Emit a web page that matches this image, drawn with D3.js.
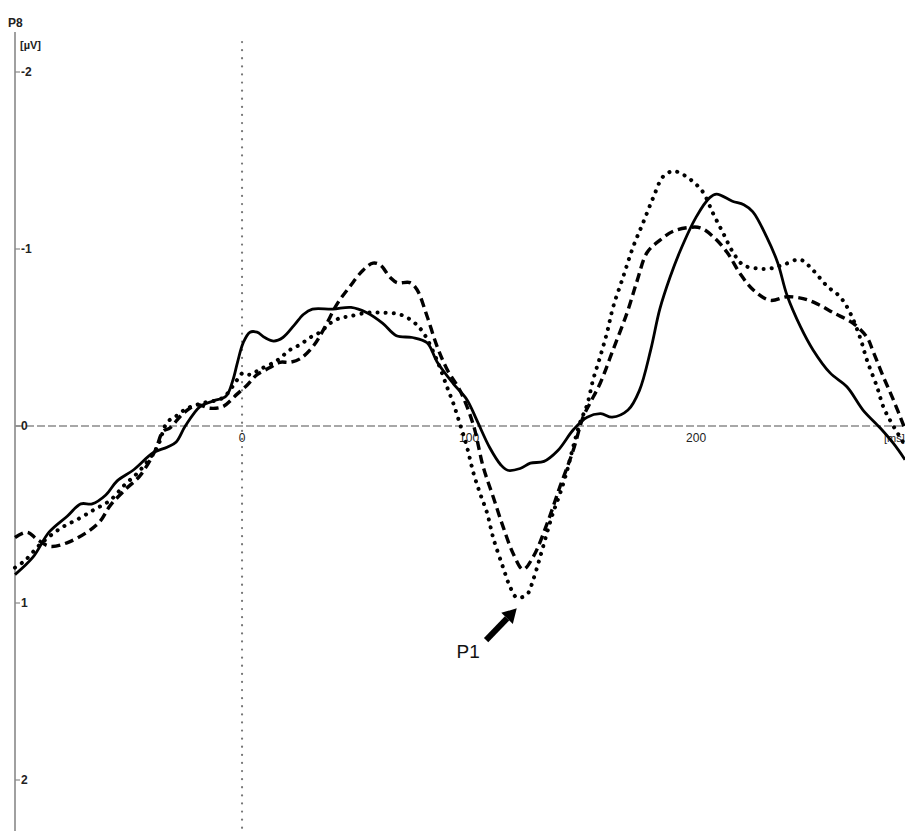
<!DOCTYPE html>
<html><head><meta charset="utf-8">
<script src="https://cdn.jsdelivr.net/npm/d3@7"></script>
<style>
html,body{margin:0;padding:0;background:#fff;overflow:hidden;}
svg{display:block;font-family:"Liberation Sans",Arial,sans-serif;}
</style></head>
<body>
<svg id="chart" width="905" height="831"></svg>
<script>
// Data: [time (ms), amplitude (µV)]
const solid = [[-100,0.84],[-92,0.74],[-85,0.60],[-77,0.51],[-71,0.44],[-66,0.44],[-60,0.39],[-55,0.31],[-48,0.25],[-39,0.15],[-33,0.12],[-29,0.09],[-25,0.0],[-18.5,-0.11],[-13,-0.14],[-7,-0.17],[-4,-0.26],[-2,-0.36],[0.5,-0.47],[3.5,-0.53],[6.6,-0.53],[10,-0.50],[14,-0.48],[18,-0.50],[23,-0.57],[27,-0.63],[31,-0.66],[40,-0.66],[48,-0.67],[55,-0.64],[62,-0.58],[68,-0.51],[75,-0.50],[81.5,-0.47],[86,-0.36],[93,-0.24],[99,-0.15],[103.5,-0.03],[109,0.12],[114,0.22],[117,0.25],[122.5,0.24],[127,0.21],[133,0.20],[139,0.14],[146,0.02],[152,-0.05],[158,-0.07],[163,-0.05],[170,-0.09],[175,-0.20],[180,-0.43],[184,-0.66],[188.5,-0.84],[193,-0.99],[200,-1.18],[206,-1.29],[209,-1.31],[216,-1.27],[221,-1.25],[225,-1.21],[231,-1.07],[236,-0.92],[240,-0.74],[246,-0.56],[251.5,-0.43],[259,-0.30],[266.5,-0.22],[273.5,-0.09],[281,0.01],[287,0.10],[292,0.19]];
const dashed = [[-100,0.63],[-94.7,0.60],[-90.3,0.64],[-84.6,0.68],[-77.1,0.66],[-68.3,0.60],[-62.6,0.54],[-58.1,0.45],[-51.5,0.36],[-44.9,0.28],[-38.3,0.14],[-34.8,0.03],[-31.7,0.01],[-26,-0.07],[-19.8,-0.12],[-14.1,-0.10],[-8.4,-0.11],[-2.2,-0.18],[2.2,-0.23],[6.6,-0.29],[12.3,-0.33],[16.7,-0.36],[21.1,-0.36],[25.6,-0.38],[31.3,-0.45],[35.7,-0.54],[41.9,-0.69],[47.6,-0.79],[53.3,-0.88],[57.7,-0.92],[60.8,-0.91],[65.2,-0.84],[68.3,-0.81],[74,-0.81],[77.1,-0.77],[81.5,-0.62],[85.9,-0.45],[90.3,-0.32],[96,-0.20],[101.8,-0.01],[106.2,0.23],[110.6,0.40],[115,0.57],[119.4,0.72],[123.8,0.81],[128.2,0.74],[134.4,0.55],[140.1,0.34],[145.8,0.14],[150.2,-0.05],[153.3,-0.13],[157.7,-0.24],[163.4,-0.43],[169.6,-0.64],[174,-0.82],[178.4,-0.98],[184.1,-1.05],[189.9,-1.10],[196,-1.12],[201.8,-1.12],[207.5,-1.07],[213.7,-0.98],[219.4,-0.86],[225.1,-0.77],[232.6,-0.71],[240.1,-0.73],[247.1,-0.72],[253.3,-0.69],[260.4,-0.64],[269.2,-0.58],[275.3,-0.50],[278,-0.42],[282.4,-0.28],[286.8,-0.15],[292.1,0.02]];
const dotted = [[-100,0.80],[-95.6,0.76],[-89,0.67],[-80.2,0.58],[-71.4,0.52],[-64.8,0.47],[-58.1,0.42],[-51.5,0.33],[-44.9,0.25],[-37.4,0.12],[-33,-0.02],[-28.6,-0.06],[-24.2,-0.10],[-17.2,-0.13],[-8.4,-0.16],[-2.2,-0.26],[0.4,-0.30],[3.5,-0.29],[7.9,-0.32],[15.4,-0.37],[21.1,-0.43],[25.6,-0.46],[30,-0.50],[34.4,-0.53],[38.8,-0.58],[43.2,-0.61],[47.6,-0.62],[55.1,-0.64],[62.1,-0.64],[69.6,-0.63],[75.3,-0.59],[79.7,-0.53],[85.9,-0.37],[90.3,-0.22],[93,-0.13],[96,-0.01],[99.1,0.12],[101.8,0.26],[104.8,0.38],[107.9,0.49],[110.6,0.63],[115,0.80],[118.1,0.91],[121.1,0.97],[125.6,0.95],[128.2,0.87],[131.3,0.74],[134.4,0.60],[137,0.49],[140.1,0.38],[143.2,0.25],[145.8,0.12],[148.9,-0.02],[152,-0.12],[154.6,-0.26],[157.7,-0.39],[160.8,-0.53],[163.4,-0.67],[167.8,-0.84],[172.2,-1.01],[176.7,-1.15],[181.1,-1.29],[185.5,-1.41],[189.9,-1.44],[194.3,-1.42],[198.7,-1.38],[203.1,-1.32],[207.5,-1.20],[211.9,-1.09],[216.3,-0.98],[220.7,-0.91],[226.9,-0.89],[232.6,-0.89],[238.3,-0.91],[245.8,-0.94],[251.5,-0.88],[257.7,-0.79],[263.4,-0.73],[267.8,-0.64],[272.2,-0.50],[275.3,-0.37],[279.7,-0.22],[282.4,-0.11],[285.5,-0.03],[292.1,0.11]];
const yTicks = [-2,-1,0,1,2];
const yTickLabels = ["-2","-1","0","1","2"];
const xTicks = [0,100,200];
const xTickLabels = ["0","100","200"];
const channelLabel = "P8";
const yUnit = "[µV]";
const xUnit = "[ms]";
const annotation = {label:"P1", tip:[121,1.03], tail:[107.5,1.21], text:[94.5,1.27]};

const svg = d3.select("#chart");
const x = d3.scaleLinear().domain([-100,292]).range([15,905]);
const y = d3.scaleLinear().domain([-2,2]).range([72,780]);

// zero horizontal line
svg.append("line").attr("x1",x(-100)).attr("x2",905).attr("y1",y(0)).attr("y2",y(0))
  .attr("stroke","#8a8a8a").attr("stroke-width",1.6).attr("stroke-dasharray","8,3");
// vertical dotted line at 0 ms
svg.append("line").attr("x1",x(0)).attr("x2",x(0)).attr("y1",42).attr("y2",831)
  .attr("stroke","#777").attr("stroke-width",2.2).attr("stroke-linecap","round").attr("stroke-dasharray","0.1,8");

// y axis
svg.append("line").attr("x1",x(-100)).attr("x2",x(-100)).attr("y1",32).attr("y2",831)
  .attr("stroke","#a0a0a0").attr("stroke-width",2);
const yg = svg.append("g");
yTicks.forEach((t,i)=>{
  yg.append("line").attr("x1",x(-100)).attr("x2",x(-100)+5).attr("y1",y(t)).attr("y2",y(t)).attr("stroke","#888").attr("stroke-width",1.2);
  yg.append("text").attr("x",x(-100)+6).attr("y",y(t)).attr("dy","0.36em")
    .attr("font-size",12).attr("font-weight","bold").attr("fill","#222").text(yTickLabels[i]);
});
// x tick labels
xTicks.forEach((t,i)=>{
  svg.append("text").attr("x",x(t)).attr("y",y(0)+12).attr("dy","0.36em").attr("text-anchor","middle")
    .attr("font-size",12).attr("fill","#222").text(xTickLabels[i]);
});
svg.append("text").attr("x",884).attr("y",y(0)+12).attr("dy","0.36em").attr("font-size",11).attr("fill","#222").text(xUnit);
svg.append("text").attr("x",8).attr("y",27).attr("font-size",12).attr("font-weight","bold").attr("fill","#222").text(channelLabel);
svg.append("text").attr("x",20).attr("y",49).attr("font-size",11).attr("font-weight","bold").attr("fill","#222").text(yUnit);

const line = d3.line().x(d=>x(d[0])).y(d=>y(d[1])).curve(d3.curveCatmullRom.alpha(0.5));
svg.append("path").datum(dotted).attr("d",line).attr("fill","none").attr("stroke","#000")
  .attr("stroke-width",4).attr("stroke-linecap","round").attr("stroke-dasharray","0.1,8");
svg.append("path").datum(dashed).attr("d",line).attr("fill","none").attr("stroke","#000")
  .attr("stroke-width",3.4).attr("stroke-dasharray","9,5");
svg.append("path").datum(solid).attr("d",line).attr("fill","none").attr("stroke","#000")
  .attr("stroke-width",2.8);

// annotation arrow
const tip=[x(annotation.tip[0]),y(annotation.tip[1])], tail=[x(annotation.tail[0]),y(annotation.tail[1])];
const ang=Math.atan2(tip[1]-tail[1],tip[0]-tail[0]);
const hl=14, hw=8;
const base=[tip[0]-hl*Math.cos(ang), tip[1]-hl*Math.sin(ang)];
svg.append("line").attr("x1",tail[0]).attr("y1",tail[1]).attr("x2",base[0]).attr("y2",base[1])
  .attr("stroke","#000").attr("stroke-width",6);
svg.append("path").attr("d",`M${tip[0]},${tip[1]}L${base[0]+hw*Math.sin(ang)},${base[1]-hw*Math.cos(ang)}L${base[0]-hw*Math.sin(ang)},${base[1]+hw*Math.cos(ang)}Z`).attr("fill","#000");
svg.append("text").attr("x",x(annotation.text[0])).attr("y",y(annotation.text[1])).attr("dy","0.36em")
  .attr("font-size",19).attr("fill","#111").text(annotation.label);
</script>
</body></html>
